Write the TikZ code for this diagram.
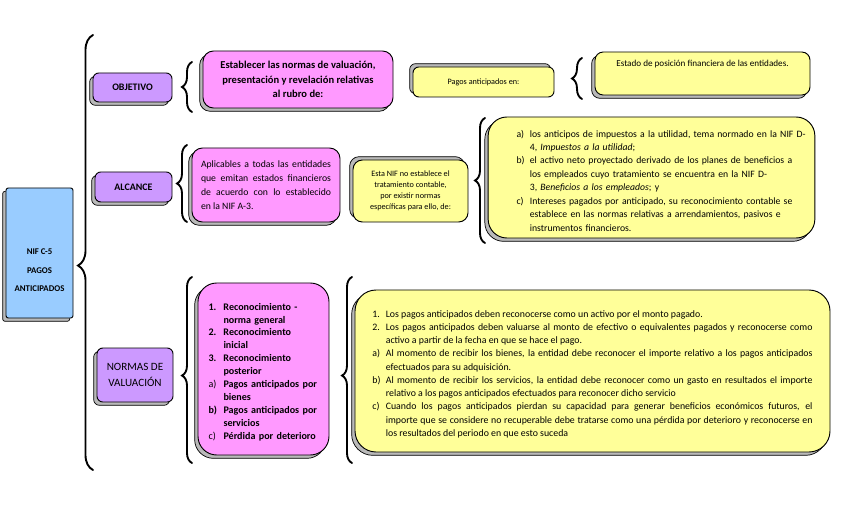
\documentclass[tikz,border=0pt]{standalone}
\usepackage{fontspec}
\setmainfont{Carlito}
\usepackage{xcolor}
\usetikzlibrary{shadows,decorations.pathreplacing}

\definecolor{rootblue}{HTML}{99CCFF}
\definecolor{tagpurple}{HTML}{CC99FF}
\definecolor{notepink}{HTML}{FF99FF}
\definecolor{noteyellow}{HTML}{FFFF99}

\newlength{\itemhang}
\setlength{\itemhang}{0.4cm}
\newcommand{\listentry}[1]{\par\hangindent=\itemhang\hangafter=1\noindent\makebox[\itemhang][l]{#1}}

\begin{document}
\begin{tikzpicture}[
    x=0.03cm, y=-0.03cm,
    box/.style     = {draw, line width=0.8pt, align=center, inner sep=2pt},
    shadowdl/.style = {general shadow={shadow xshift=-0.1cm, shadow yshift=-0.1cm,
                       fill=gray!55, draw=black, line width=0.6pt}},
    shadowul/.style = {general shadow={shadow xshift=-0.1cm, shadow yshift=0.1cm,
                       fill=gray!55, draw=black, line width=0.6pt}},
    rootbox/.style = {box, shadowdl, fill=rootblue, rounded corners=2pt,
                      font=\bfseries\fontsize{7.5}{9}\selectfont},
    tag/.style     = {box, shadowdl, fill=tagpurple, rounded corners=5pt,
                      font=\bfseries\fontsize{8.5}{10}\selectfont},
    pinkbox/.style = {box, fill=notepink, rounded corners=9pt},
    yelbox/.style  = {box, fill=noteyellow, rounded corners=7pt},
    brc/.style     = {decorate, decoration={brace, amplitude=#1},
                      line width=1.6pt, line cap=round},
]
\useasboundingbox (0,0) rectangle (848,515);

%% ── Root ──────────────────────────────────────────────────────────────────
\node[rootbox, minimum width=2.01cm, minimum height=3.9cm] (root) at (39.5,253)
  {\raisebox{-0.6cm}[0pt][0pt]{\begin{tabular}{@{}c@{}}NIF C-5\\[7pt]
   PAGOS\\[7pt] ANTICIPADOS\end{tabular}}};

\coordinate (mainbrB) at (93,470);
\coordinate (mainbrT) at (93,35);
\draw[brc=0.45cm, decoration={aspect=0.47}] (mainbrB) -- (mainbrT);

%% ── Objetivo ──────────────────────────────────────────────────────────────
\node[tag, minimum width=2.37cm, minimum height=0.87cm] (obj) at (132.5,87.5)
  {OBJETIVO};

\coordinate (objbrB) at (192,112);
\coordinate (objbrT) at (192,62);
\draw[brc=0.3cm] (objbrB) -- (objbrT);

\node[pinkbox, shadowdl, minimum width=5.7cm, minimum height=1.71cm,
      font=\bfseries\fontsize{9}{12.5}\selectfont] (goal) at (298,79.5)
  {Establecer las normas de valuación,\\presentación y revelación relativas\\al rubro de:};

\node[yelbox, shadowul, rounded corners=5pt, minimum width=4.23cm,
      minimum height=0.9cm, font=\fontsize{7}{8.5}\selectfont] (paid) at (483.5,82)
  {Pagos anticipados en:};

\coordinate (paidbrB) at (582,99);
\coordinate (paidbrT) at (582,58);
\draw[brc=0.3cm] (paidbrB) -- (paidbrT);

\node[yelbox, shadowdl, minimum width=6.45cm, minimum height=1.29cm,
      text depth=0.6cm, font=\fontsize{7.8}{9.5}\selectfont] (state) at (702.5,73.5)
  {Estado de posición financiera de las entidades.};

%% ── Alcance ───────────────────────────────────────────────────────────────
\node[tag, minimum width=2.31cm, minimum height=0.9cm] (scope) at (133.5,187)
  {ALCANCE};

\coordinate (scopebrB) at (187,222);
\coordinate (scopebrT) at (187,145);
\draw[brc=0.3cm] (scopebrB) -- (scopebrT);

\node[pinkbox, shadowdl, minimum width=4.44cm, minimum height=2.22cm,
      text width=3.9cm, align=justify, font=\fontsize{8.3}{12}\selectfont]
  (apply) at (266,185)
  {\tolerance=9999 Aplicables a todas las entidades\linebreak que emitan estados
   financieros\linebreak de acuerdo con lo establecido\linebreak en la NIF A-3.};

\node[yelbox, shadowul, rounded corners=8pt, minimum width=3.45cm,
      minimum height=1.86cm, font=\fontsize{7}{9.4}\selectfont] (none) at (410.5,191)
  {Esta NIF no establece el\\tratamiento contable,\\por existir normas\\específicas para ello, de:};

\coordinate (nonebrB) at (485,243);
\coordinate (nonebrT) at (485,118);
\draw[brc=0.3cm] (nonebrB) -- (nonebrT);

\node[yelbox, shadowdl, rounded corners=16pt, minimum width=9.8cm,
      minimum height=3.63cm, text width=9.5cm, align=left,
      font=\fontsize{8.3}{11.5}\selectfont] (except) at (651.5,177.5)
  {\leftskip=0.7cm
   \listentry{a)}los anticipos de impuestos a la utilidad, tema normado en la NIF D-\newline
   4, \textit{Impuestos a la utilidad};
   \listentry{b)}el activo neto proyectado derivado de los planes de beneficios a\newline
   los empleados cuyo tratamiento se encuentra en la NIF D-\newline
   3, \textit{Beneficios a los empleados}; y
   \listentry{c)}Intereses pagados por anticipado, su reconocimiento contable se\newline
   establece en las normas relativas a arrendamientos, pasivos e\newline
   instrumentos financieros.\par};

%% ── Normas de valuación ───────────────────────────────────────────────────
\node[tag, minimum width=2.28cm, minimum height=1.62cm,
      font=\fontsize{9.5}{13}\selectfont] (norms) at (135,375)
  {NORMAS DE\\VALUACIÓN};

\coordinate (normsbrB) at (192,463);
\coordinate (normsbrT) at (192,277);
\draw[brc=0.3cm, decoration={aspect=0.47}] (normsbrB) -- (normsbrT);

\node[pinkbox, shadowdl, rounded corners=16pt, minimum width=3.93cm,
      minimum height=5.16cm, text width=3.3cm, align=left,
      font=\bfseries\fontsize{8.6}{11}\selectfont] (steps) at (263.5,369)
  {\setlength{\itemhang}{0.45cm}%
   \listentry{1.}Reconocimiento -\newline norma general
   \listentry{2.}Reconocimiento\newline inicial
   \listentry{3.}Reconocimiento\newline posterior
   \listentry{\mdseries a)}Pagos anticipados por\newline bienes
   \listentry{b)}Pagos anticipados por\newline servicios
   \listentry{\mdseries c)}Pérdida por deterioro\par};

\coordinate (stepsbrB) at (352,463);
\coordinate (stepsbrT) at (352,277);
\draw[brc=0.3cm, decoration={aspect=0.47}] (stepsbrB) -- (stepsbrT);

\node[yelbox, shadowdl, rounded corners=18pt, minimum width=14.25cm,
      minimum height=4.86cm, text width=13.2cm, align=justify,
      font=\fontsize{8.4}{11.3}\selectfont] (rules) at (592.5,371)
  {\tolerance=9999 \hyphenpenalty=10000
   \listentry{1.}Los pagos anticipados deben reconocerse como un activo por el monto pagado.
   \listentry{2.}Los pagos anticipados deben valuarse al monto de efectivo o equivalentes
   pagados y reconocerse como\linebreak activo a partir de la fecha en que se hace el pago.
   \listentry{a)}Al momento de recibir los bienes, la entidad debe reconocer el importe
   relativo a los pagos anticipados\linebreak efectuados para su adquisición.
   \listentry{b)}Al momento de recibir los servicios, la entidad debe reconocer como un
   gasto en resultados el importe\linebreak relativo a los pagos anticipados efectuados
   para reconocer dicho servicio
   \listentry{c)}Cuando los pagos anticipados pierdan su capacidad para generar beneficios
   económicos futuros, el\linebreak importe que se considere no recuperable debe tratarse
   como una pérdida por deterioro y reconocerse en\linebreak los resultados del periodo
   en que esto suceda\par};

\end{tikzpicture}
\end{document}
